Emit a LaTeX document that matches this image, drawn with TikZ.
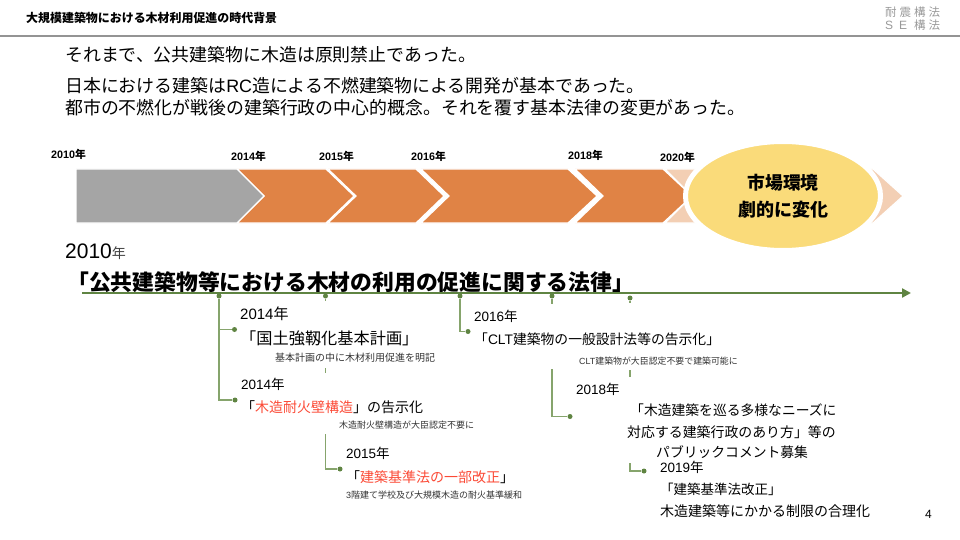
\documentclass[tikz,border=0pt]{standalone}
\usepackage{fontspec}
\setmainfont{Noto Sans CJK JP}
\newfontfamily\ltnf{Liberation Sans}
\newcommand{\ltn}[1]{{\ltnf #1}}
\usetikzlibrary{arrows.meta}
\definecolor{cgreen}{HTML}{5F8442}
\definecolor{cgreenl}{HTML}{86A46C}
\definecolor{corange}{HTML}{E08345}
\definecolor{clight}{HTML}{F3CFB4}
\definecolor{cgrey}{HTML}{A5A5A5}
\definecolor{cyellow}{HTML}{FADB7A}
\definecolor{cred}{HTML}{FB4A36}
\definecolor{cnote}{HTML}{333333}
\definecolor{clogo}{HTML}{999999}
\tikzset{
  txt/.style={anchor=base west,inner sep=0pt,text=black},
  ctr/.style={anchor=base,inner sep=0pt,text=black},
  chev/.style={draw=white,line width=1.2pt,line join=miter},
  tdot/.style={circle,fill=cgreen,inner sep=0pt,minimum size=5pt},
  branch/.style={draw=cgreenl,line width=1.3pt},
}
% x, y of the text's centre line, size, name, text
\newcommand{\T}[6][txt]{\node[#1,font=\fontsize{#4}{#4}\selectfont] (#5) at (#2,{#3+0.36*#4}) {#6};}
\begin{document}
\begin{tikzpicture}[x=1pt,y=-1pt]
\useasboundingbox (0,0) rectangle (960,540);
% header
\coordinate (hl) at (0,36); \coordinate (hr) at (960,36);
\draw[line width=2.6pt,draw=black!42] (hl) -- (hr);
\T{26}{18}{11.95}{title}{\bfseries 大規模建築物における木材利用促進の時代背景}
\foreach \c/\x/\n in {耐/885/a,震/899.5/b,構/914/c,法/928.5/d}{
  \T[txt,text=clogo]{\x}{12}{11.5}{logo\n}{\c}
}
\T[txt,text=clogo]{885}{25}{12}{logoe}{\ltn{S}}
\T[txt,text=clogo]{899}{25}{12}{logof}{\ltn{E}}
\T[txt,text=clogo]{914}{25}{11.5}{logog}{構}
\T[txt,text=clogo]{928.5}{25}{11.5}{logoh}{法}
% intro
\T{65}{55}{17.9}{intro1}{それまで、公共建築物に木造は原則禁止であった。}
\T{65}{86}{17.9}{intro2}{日本における建築は\ltn{RC}造による不燃建築物による開発が基本であった。}
\T{65}{108}{17.9}{intro3}{都市の不燃化が戦後の建築行政の中心的概念。それを覆す基本法律の変更があった。}
% chevrons
\fill[clight,chev] (665,169) -- (873,169) -- (903,196) -- (873,223) -- (665,223) -- (692,196) -- cycle;
\fill[corange,chev] (575,169) -- (663,169) -- (692,196) -- (663,223) -- (575,223) -- (603,196) -- cycle;
\fill[corange,chev] (421,169) -- (568,169) -- (597,196) -- (568,223) -- (421,223) -- (449,196) -- cycle;
\fill[corange,chev] (328,169) -- (416,169) -- (444,196) -- (416,223) -- (328,223) -- (356,196) -- cycle;
\fill[corange,chev] (237,169) -- (326,169) -- (354,196) -- (326,223) -- (237,223) -- (264,196) -- cycle;
\fill[cgrey,chev] (76,169) -- (237,169) -- (264,196) -- (237,223) -- (76,223) -- cycle;
\draw[fill=cyellow,draw=white,line width=5pt] (783,196) ellipse [x radius=97.5,y radius=54.5];
\T[ctr]{783}{183}{17.8}{mk1}{\bfseries 市場環境}
\T[ctr]{783}{210}{18}{mk2}{\bfseries 劇的に変化}
% year labels
\T{51}{155}{10.8}{y10}{\bfseries\ltn{\bfseries 2010}年}
\T{231}{157}{10.8}{y14}{\bfseries\ltn{\bfseries 2014}年}
\T{319}{157}{10.8}{y15}{\bfseries\ltn{\bfseries 2015}年}
\T{411}{157}{10.8}{y16}{\bfseries\ltn{\bfseries 2016}年}
\T{568}{156}{10.8}{y18}{\bfseries\ltn{\bfseries 2018}年}
\T{660}{158}{10.8}{y20}{\bfseries\ltn{\bfseries 2020}年}
% law
\node[txt,font=\fontsize{21}{21}\selectfont] (law0) at (65,258) {\ltn{2010}{\fontsize{14}{14}\selectfont\color{black!75}年}};
\T{67}{283}{21.8}{law}{\bfseries 「公共建築物等における木材の利用の促進に関する法律」}
% timeline
\coordinate (tstart) at (82,293);
\coordinate (tend) at (911,293);
\draw[cgreen,line width=2.8pt,-{Triangle[length=9pt,width=9pt]}] (tstart) -- (tend);
\node[tdot] (b1) at (219,296) {};
\node[tdot] (b2) at (325.5,296) {};
\node[tdot] (b3) at (460,296) {};
\node[tdot] (b4) at (552,296) {};
\node[tdot] (b5) at (630,298) {};
\node[tdot] (d1) at (234.5,329.5) {};
\node[tdot] (d2) at (235,400) {};
\node[tdot] (d3) at (340,469) {};
\node[tdot] (d4) at (468,331.5) {};
\node[tdot] (d5) at (570,416.5) {};
\node[tdot] (d6) at (644,471) {};
\coordinate (c1) at (219,329.5);
\coordinate (c2) at (219,400);
\coordinate (s2a) at (325.5,301);
\coordinate (s2b) at (325.5,368);
\coordinate (s2c) at (325.5,373);
\coordinate (s2d) at (325.5,434);
\coordinate (s4a) at (552,304);
\coordinate (s4b) at (552,369);
\coordinate (s5a) at (630,303);
\coordinate (s5b) at (630,370);
\coordinate (s5c) at (630,377);
\coordinate (s5d) at (630,463);
\draw[branch] (b1) -- (c2) -- (d2);
\draw[branch] (c1) -- (d1);
\draw[branch] (b2) -- (s2a);
\draw[branch] (s2b) -- (s2c);
\draw[branch] (s2d) |- (d3);
\draw[branch] (b3) |- (d4);
\draw[branch] (b4) -- (s4a);
\draw[branch] (s4b) |- (d5);
\draw[branch] (b5) -- (s5a);
\draw[branch] (s5b) -- (s5c);
\draw[branch] (s5d) |- (d6);
% left column
\T{240}{314}{15}{e1y}{\ltn{2014}年}
\T{240}{339}{16.2}{e1t}{「国土強靱化基本計画」}
\T[txt,text=cnote]{275}{358}{10}{e1n}{基本計画の中に木材利用促進を明記}
\T{241}{385}{13.5}{e2y}{\ltn{2014}年}
\T{241}{407}{14}{e2t}{「{\color{cred}木造耐火壁構造}」の告示化}
\T[txt,text=cnote]{339}{425}{9}{e2n}{木造耐火壁構造が大臣認定不要に}
\T{346}{454}{13.5}{e3y}{\ltn{2015}年}
\T{346}{477}{14}{e3t}{「{\color{cred}建築基準法の一部改正}」}
\T[txt,text=cnote]{346}{495}{9}{e3n}{\ltn{3}階建て学校及び大規模木造の耐火基準緩和}
% right column
\T{474}{317}{13.5}{e4y}{\ltn{2016}年}
\T{474}{340}{13.8}{e4t}{「\ltn{CLT}建築物の一般設計法等の告示化」}
\T[txt,text=cnote]{579}{361}{8.9}{e4n}{\ltn{CLT}建築物が大臣認定不要で建築可能に}
\T{576}{390}{13.5}{e5y}{\ltn{2018}年}
\T{630}{411}{13.8}{e5a}{「木造建築を巡る多様なニーズに}
\T{627}{432}{13.9}{e5b}{対応する建築行政のあり方」等の}
\T{656}{453}{13.8}{e5c}{パブリックコメント募集}
\T{660}{468}{13.5}{e6y}{\ltn{2019}年}
\T{660}{490}{13.5}{e6a}{「建築基準法改正」}
\T{660}{511}{14}{e6b}{木造建築等にかかる制限の合理化}
\T{925}{514}{12}{pg}{\ltn{4}}
\end{tikzpicture}
\end{document}
